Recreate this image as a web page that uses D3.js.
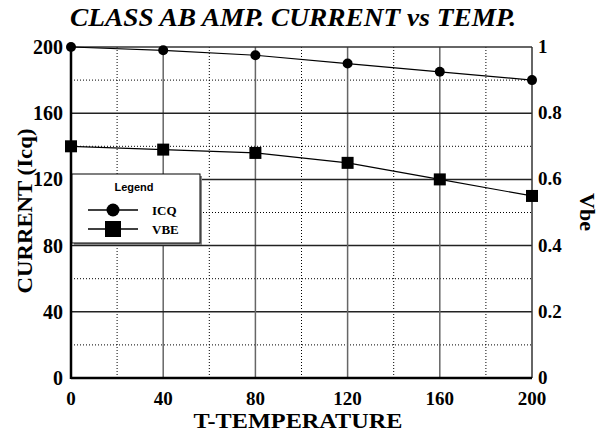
<!DOCTYPE html>
<html>
<head>
<meta charset="utf-8">
<script src="https://cdn.jsdelivr.net/npm/d3@7"></script>
<style>
body { margin: 0; background: #fff; }
text { font-family: "Liberation Serif", "Times New Roman", serif; font-weight: bold; }
</style>
</head>
<body>
<svg width="600" height="432"></svg>
<script>
var temps = [0, 40, 80, 120, 160, 200];
var icq = [200, 198, 195, 190, 185, 180];
var vbe = [0.70, 0.69, 0.68, 0.65, 0.60, 0.55];
var xTicks = [0, 40, 80, 120, 160, 200];
var yTicks = [0, 40, 80, 120, 160, 200];
var y2Ticks = [0, 0.2, 0.4, 0.6, 0.8, 1];

var svg = d3.select("svg");
var pLeft = 71, pRight = 532, pTop = 47, pBottom = 378;

var x = d3.scaleLinear().domain([0, 200]).range([pLeft, pRight]);
var y = d3.scaleLinear().domain([0, 200]).range([pBottom, pTop]);
var y2 = d3.scaleLinear().domain([0, 1]).range([pBottom, pTop]);

// title
svg.append("text")
 .attr("x", 293).attr("y", 26)
 .attr("text-anchor", "middle")
 .attr("font-size", "25px")
 .attr("font-style", "italic")
 .attr("textLength", 446)
 .attr("lengthAdjust", "spacingAndGlyphs")
 .text("CLASS AB AMP. CURRENT vs TEMP.");

// minor dotted grid
var g = svg.append("g");
d3.range(20, 200, 40).forEach(function(v) {
 g.append("line")
 .attr("x1", x(v)).attr("x2", x(v)).attr("y1", pTop).attr("y2", pBottom)
 .attr("stroke", "#000").attr("stroke-width", 1).attr("stroke-dasharray", "1,2");
 g.append("line")
 .attr("x1", pLeft).attr("x2", pRight).attr("y1", y(v)).attr("y2", y(v))
 .attr("stroke", "#000").attr("stroke-width", 1).attr("stroke-dasharray", "1,2");
});
// major solid grid
[40, 80, 120, 160].forEach(function(v) {
 g.append("line")
 .attr("x1", x(v)).attr("x2", x(v)).attr("y1", pTop).attr("y2", pBottom)
 .attr("stroke", "#666").attr("stroke-width", 1.5);
 g.append("line")
 .attr("x1", pLeft).attr("x2", pRight).attr("y1", y(v)).attr("y2", y(v))
 .attr("stroke", "#222").attr("stroke-width", 1.5);
});

// frame
g.append("line").attr("x1", pLeft).attr("x2", pRight).attr("y1", pTop).attr("y2", pTop)
 .attr("stroke", "#333").attr("stroke-width", 1.5);
g.append("line").attr("x1", pRight).attr("x2", pRight).attr("y1", pTop).attr("y2", pBottom)
 .attr("stroke", "#333").attr("stroke-width", 1.5);
g.append("line").attr("x1", pLeft).attr("x2", pLeft).attr("y1", pTop).attr("y2", pBottom + 1)
 .attr("stroke", "#000").attr("stroke-width", 2.5);
g.append("line").attr("x1", pLeft).attr("x2", pRight).attr("y1", pBottom).attr("y2", pBottom)
 .attr("stroke", "#000").attr("stroke-width", 2.5);

// tick labels
svg.selectAll(".xt").data(xTicks).enter().append("text")
 .attr("x", function(d) { return x(d); }).attr("y", pBottom + 27)
 .attr("text-anchor", "middle").attr("font-size", "19px")
 .text(function(d) { return d; });
svg.selectAll(".yt").data(yTicks).enter().append("text")
 .attr("x", pLeft - 8).attr("y", function(d) { return y(d) + 7; })
 .attr("text-anchor", "end").attr("font-size", "20px")
 .text(function(d) { return d; });
svg.selectAll(".y2t").data(y2Ticks).enter().append("text")
 .attr("x", pRight + 6).attr("y", function(d) { return y2(d) + 6; })
 .attr("text-anchor", "start").attr("font-size", "19px")
 .text(function(d) { return d; });

// axis titles
svg.append("text")
 .attr("x", 298).attr("y", 427.5)
 .attr("text-anchor", "middle").attr("font-size", "20px")
 .attr("textLength", 209).attr("lengthAdjust", "spacingAndGlyphs")
 .text("T-TEMPERATURE");
svg.append("text")
 .attr("transform", "translate(32,211) rotate(-90)")
 .attr("text-anchor", "middle").attr("font-size", "22px")
 .attr("textLength", 165).attr("lengthAdjust", "spacingAndGlyphs")
 .text("CURRENT (Icq)");
svg.append("text")
 .attr("transform", "translate(580,212) rotate(90)")
 .attr("text-anchor", "middle").attr("font-size", "22px")
 .text("Vbe");

// series
var line1 = d3.line().x(function(d, i) { return x(temps[i]); }).y(function(d) { return y(d); });
var line2 = d3.line().x(function(d, i) { return x(temps[i]); }).y(function(d) { return y2(d); });

svg.append("path").datum(icq).attr("d", line1)
 .attr("fill", "none").attr("stroke", "#000").attr("stroke-width", 1.2);
svg.append("path").datum(vbe).attr("d", line2)
 .attr("fill", "none").attr("stroke", "#000").attr("stroke-width", 1.2);

svg.selectAll(".c").data(icq).enter().append("circle")
 .attr("cx", function(d, i) { return x(temps[i]); })
 .attr("cy", function(d) { return y(d); })
 .attr("r", 5).attr("fill", "#000");
svg.selectAll(".s").data(vbe).enter().append("rect")
 .attr("x", function(d, i) { return x(temps[i]) - 6; })
 .attr("y", function(d) { return y2(d) - 6; })
 .attr("width", 12).attr("height", 12).attr("fill", "#000");

// legend
var lg = svg.append("g").attr("transform", "translate(72,174)");
lg.append("rect").attr("x", 2).attr("y", 2).attr("width", 128).attr("height", 69).attr("fill", "#888");
lg.append("rect").attr("width", 128).attr("height", 69)
 .attr("fill", "#fff").attr("stroke", "#000").attr("stroke-width", 1);
lg.append("text").attr("x", 62).attr("y", 17).attr("text-anchor", "middle")
 .attr("font-size", "11px").style("font-family", "'Liberation Sans', Arial, sans-serif")
 .text("Legend");
lg.append("line").attr("x1", 16).attr("x2", 66).attr("y1", 36).attr("y2", 36)
 .attr("stroke", "#000").attr("stroke-width", 1.5);
lg.append("circle").attr("cx", 41).attr("cy", 36).attr("r", 6.5).attr("fill", "#000");
lg.append("text").attr("x", 80).attr("y", 41).attr("font-size", "13px").text("ICQ");
lg.append("line").attr("x1", 16).attr("x2", 66).attr("y1", 55).attr("y2", 55)
 .attr("stroke", "#000").attr("stroke-width", 1.5);
lg.append("rect").attr("x", 33).attr("y", 47).attr("width", 16).attr("height", 16).attr("fill", "#000");
lg.append("text").attr("x", 80).attr("y", 60).attr("font-size", "13px").text("VBE");
</script>
</body>
</html>
